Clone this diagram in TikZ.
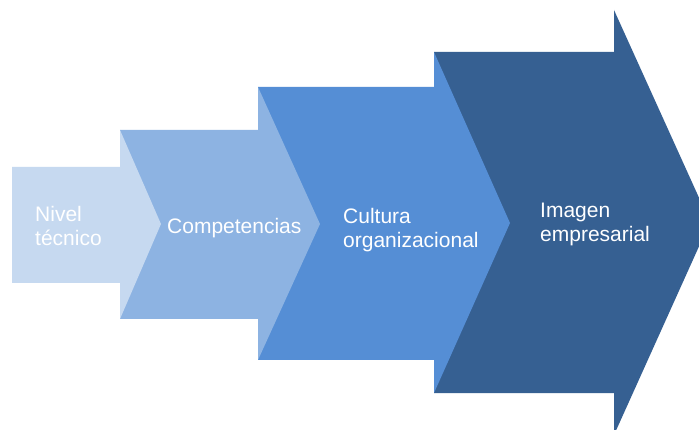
\documentclass[tikz,border=0pt]{standalone}
\usepackage{fontspec}
\setmainfont{Liberation Sans}
\definecolor{arrA}{HTML}{C6D9F0}
\definecolor{arrB}{HTML}{8DB3E2}
\definecolor{arrC}{HTML}{558ED5}
\definecolor{arrD}{HTML}{366092}
\tikzset{
  lbl/.style={text=white, anchor=north west, inner sep=0pt, align=left,
    font=\fontsize{21}{24}\selectfont},
}
\begin{document}
\begin{tikzpicture}[x=1pt, y=-1pt]
\clip (0,0) rectangle (699,430);
\fill[white] (0,0) rectangle (699,430);
% arrows, drawn right to left so each later one lies on top
\fill[arrD] (434,52) -- (614,52) -- (614,10) -- (710,222) -- (614,435) -- (614,393) -- (434,393) -- cycle;
\fill[arrC] (258,87) -- (434,87) -- (434,52) -- (510,223) -- (434,393) -- (434,360) -- (258,360) -- cycle;
\fill[arrB] (120,130) -- (258,130) -- (258,87) -- (320,224) -- (258,360) -- (258,319) -- (120,319) -- cycle;
\fill[arrA] (12,167) -- (120,167) -- (120,130) -- (161,224) -- (120,319) -- (120,283) -- (12,283) -- cycle;
% labels
\node[lbl] (t1) at (35,206) {Nivel\\técnico};
\node[lbl] (t2) at (167,218) {Competencias};
\node[lbl] (t3) at (343,208) {Cultura\\organizacional};
\node[lbl] (t4) at (540,203) {Imagen\\empresarial};
\end{tikzpicture}
\end{document}
